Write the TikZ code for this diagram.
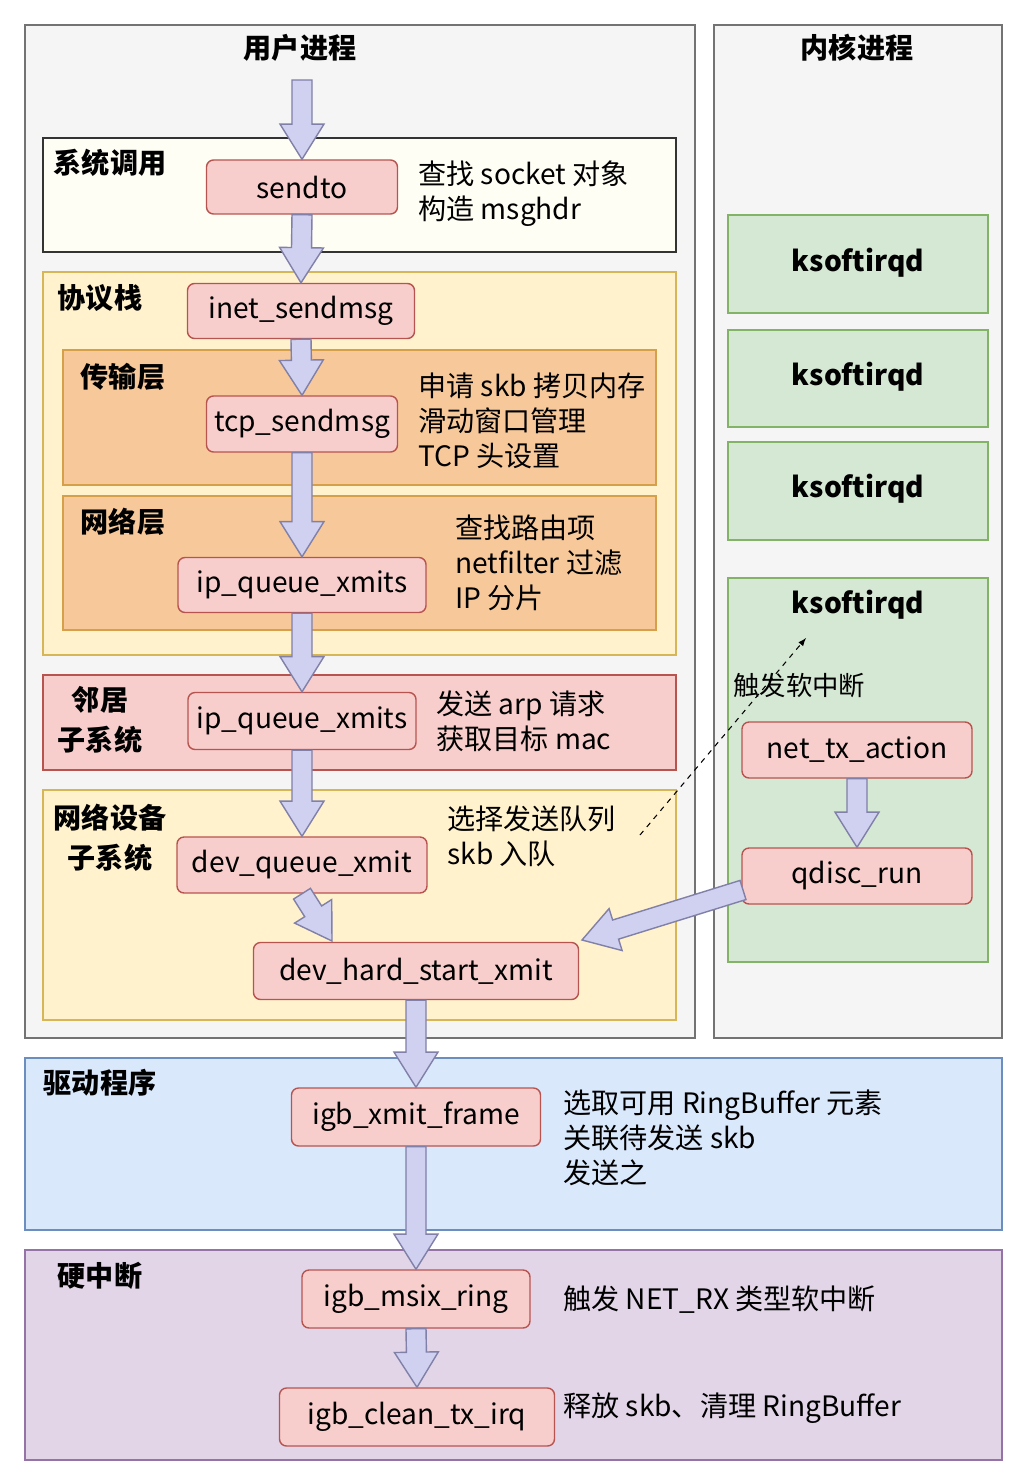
\documentclass[tikz,border=0pt]{standalone}
\usepackage{fontspec}
\setmainfont{Noto Sans CJK SC}
\usetikzlibrary{positioning,calc}

\definecolor{pinkfill}{HTML}{F8CECC}
\definecolor{pinkline}{HTML}{B85450}
\definecolor{yelfill}{HTML}{FFF2CC}
\definecolor{yelline}{HTML}{D6B656}
\definecolor{orfill}{HTML}{F7C99A}
\definecolor{orline}{HTML}{D6A04A}
\definecolor{grfill}{HTML}{D5E8D4}
\definecolor{grline}{HTML}{82B366}
\definecolor{blfill}{HTML}{DAE8FC}
\definecolor{blline}{HTML}{6C8EBF}
\definecolor{pufill}{HTML}{E1D5E7}
\definecolor{puline}{HTML}{9673A6}
\definecolor{arrfill}{HTML}{D0D0F0}
\definecolor{arrline}{HTML}{8080A8}

\newcommand\fatarrow[2]{%
  \draw[fat] let \p1=($(#2)-(#1)$), \n1={atan2(\y1,\x1)}, \n2={veclen(\x1,\y1)-20} in
    ($(#1)+({\n1+90}:5.7pt)$) -- ($(#1)+(\n1:\n2)+({\n1+90}:5.7pt)$)
    -- ($(#1)+(\n1:\n2)+({\n1+90}:12.5pt)$) -- (#2)
    -- ($(#1)+(\n1:\n2)+({\n1-90}:12.5pt)$) -- ($(#1)+(\n1:\n2)+({\n1-90}:5.7pt)$)
    -- ($(#1)+({\n1-90}:5.7pt)$) -- cycle;}

\begin{document}
\begin{tikzpicture}[x=0.02cm,y=-0.02cm,font=\fontsize{16}{20}\selectfont]
  \tikzset{fn/.style={rectangle, rounded corners=4pt, fill=pinkfill, draw=pinkline, thick, inner sep=0pt}}
  \tikzset{panel/.style={rectangle, thick}}
  \tikzset{fat/.style={fill=arrfill, draw=arrline, thick, line join=miter}}
  \tikzset{note/.style={anchor=west, align=left, inner sep=0pt}}
  \tikzset{ttl/.style={font=\fontsize{16}{23}\selectfont\bfseries, align=center, inner sep=0pt}}
  \useasboundingbox (0,0) rectangle (1032,1480);
  \fill[white] (0,0) rectangle (1032,1480);
  % outer panels
  \draw[panel, fill=black!4, draw=black!55] (25,25) rectangle (695,1038);
  \draw[panel, fill=black!4, draw=black!55] (714,25) rectangle (1002,1038);
  \node[ttl] (user) at (300,48) {用户进程};
  \node[ttl] (kern) at (857,48) {内核进程};
  % layers
  \draw[panel, fill=white!96!yellow, draw=black!80] (43,138) rectangle (676,252);
  \node[ttl] (sys) at (110,163) {系统调用};
  \draw[panel, fill=yelfill, draw=yelline] (43,272) rectangle (676,655);
  \node[ttl] (stack) at (100,298) {协议栈};
  \draw[panel, fill=orfill, draw=orline] (63,350) rectangle (656,485);
  \node[ttl] (trans) at (123,377) {传输层};
  \draw[panel, fill=orfill, draw=orline] (63,496) rectangle (656,630);
  \node[ttl] (netl) at (123,522) {网络层};
  \draw[panel, fill=pinkfill, draw=pinkline] (43,675) rectangle (676,770);
  \node[ttl] (neigh) at (100,720) {邻居\\子系统};
  \draw[panel, fill=yelfill, draw=yelline] (43,790) rectangle (676,1020);
  \node[ttl] (dev) at (110,838) {网络设备\\子系统};
  \draw[panel, fill=blfill, draw=blline] (25,1058) rectangle (1002,1230);
  \node[ttl] (drv) at (100,1083) {驱动程序};
  \draw[panel, fill=pufill, draw=puline] (25,1250) rectangle (1002,1460);
  \node[ttl] (hirq) at (100,1276) {硬中断};
  % ksoftirqd
  \foreach \ya/\yb/\yt [count=\i] in {215/313/263, 330/427/377, 442/540/489, 578/962/605} {
    \draw[panel, fill=grfill, draw=grline] (728,\ya) rectangle (988,\yb);
    \node[ttl] (ksoft\i) at (858,\yt) {ksoftirqd};
  }
  % function nodes
  \node[fn, minimum width=191*0.02cm, minimum height=54*0.02cm] (sendto) at (302,187) {sendto};
  \node[fn, minimum width=227*0.02cm, minimum height=55*0.02cm] (inet) at (301,311) {inet\_sendmsg};
  \node[fn, minimum width=191*0.02cm, minimum height=56*0.02cm] (tcp) at (302,424) {tcp\_sendmsg};
  \node[fn, minimum width=248*0.02cm, minimum height=55*0.02cm] (ipq) at (302,585) {ip\_queue\_xmits};
  \node[fn, minimum width=228*0.02cm, minimum height=57*0.02cm] (ipqn) at (302,721) {ip\_queue\_xmits};
  \node[fn, minimum width=250*0.02cm, minimum height=56*0.02cm] (devq) at (302,865) {dev\_queue\_xmit};
  \node[fn, minimum width=325*0.02cm, minimum height=57*0.02cm] (dhs) at (416,971) {dev\_hard\_start\_xmit};
  \node[fn, minimum width=230*0.02cm, minimum height=56*0.02cm] (ntx) at (857,750) {net\_tx\_action};
  \node[fn, minimum width=230*0.02cm, minimum height=56*0.02cm] (qdisc) at (857,876) {qdisc\_run};
  \node[fn, minimum width=249*0.02cm, minimum height=58*0.02cm] (igbx) at (416,1117) {igb\_xmit\_frame};
  \node[fn, minimum width=228*0.02cm, minimum height=58*0.02cm] (msix) at (416,1299) {igb\_msix\_ring};
  \node[fn, minimum width=275*0.02cm, minimum height=58*0.02cm] (clean) at (417,1417) {igb\_clean\_tx\_irq};
  % notes
  \node[note] (n1) at (418,194) {查找 socket 对象\\构造 msghdr};
  \node[note] (n2) at (418,421) {申请 skb 拷贝内存\\滑动窗口管理\\TCP 头设置};
  \node[note] (n3) at (455,563) {查找路由项\\netfilter 过滤\\IP 分片};
  \node[note] (n4) at (436,721) {发送 arp 请求\\获取目标 mac};
  \node[note] (n5) at (447,836) {选择发送队列\\skb 入队};
  \node[note] (n6) at (563,1138) {选取可用 RingBuffer 元素\\关联待发送 skb\\发送之};
  \node[note] (n7) at (563,1300) {触发 NET\_RX 类型软中断};
  \node[note] (n8) at (563,1408) {释放 skb、清理 RingBuffer};
  \node[note, font=\fontsize{15}{19}\selectfont] (n9) at (733,685) {触发软中断};
  % arrows
  \coordinate (top) at (302,80);
  \fatarrow{top}{sendto.north}
  \fatarrow{sendto.south}{inet.north}
  \fatarrow{inet.south}{tcp.north}
  \fatarrow{tcp.south}{ipq.north}
  \fatarrow{ipq.south}{ipqn.north}
  \fatarrow{ipqn.south}{devq.north}
  \coordinate (dhsin) at (332,941);
  \fatarrow{devq.south}{dhsin}
  \coordinate (qout) at (743,890);
  \coordinate (dhsr) at (582,940);
  \fatarrow{qout}{dhsr}
  \fatarrow{ntx.south}{qdisc.north}
  \fatarrow{dhs.south}{igbx.north}
  \fatarrow{igbx.south}{msix.north}
  \fatarrow{msix.south}{clean.north}
  \coordinate (trig) at (640,835);
  \coordinate (ksin) at (806,638);
  \draw[dashed, semithick, -latex] (trig) -- (ksin);
\end{tikzpicture}
\end{document}
